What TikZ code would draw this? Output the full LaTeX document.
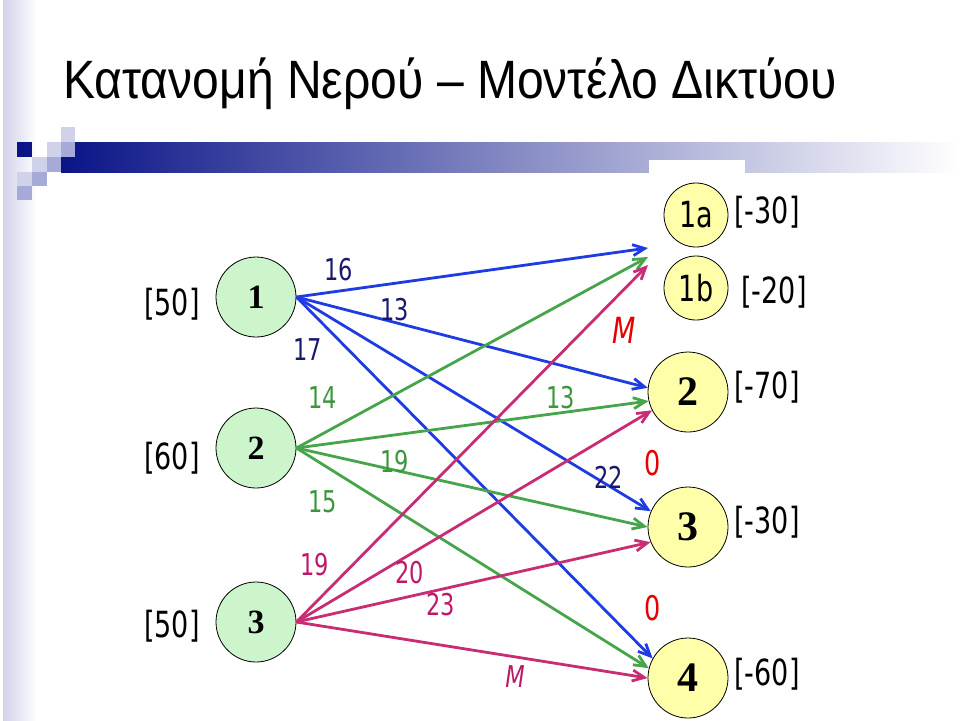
\documentclass[tikz,border=0pt]{standalone}
\usepackage{fontspec}
\setmainfont{DejaVu Sans}[FakeStretch=0.75]
\newfontfamily\titlefont{Liberation Sans}[FakeStretch=0.89]
\newfontfamily\numfont{Liberation Serif}
\usetikzlibrary{arrows.meta}

\definecolor{navybar}{RGB}{10,20,135}
\definecolor{stripe}{RGB}{210,210,235}
\definecolor{lavmid}{RGB}{165,170,215}
\definecolor{lavlight}{RGB}{208,210,234}
\definecolor{srcfill}{RGB}{204,245,204}
\definecolor{snkfill}{RGB}{255,255,170}
\definecolor{eblue}{RGB}{30,60,225}
\definecolor{egreen}{RGB}{70,165,75}
\definecolor{emag}{RGB}{200,45,115}
\definecolor{tnavy}{RGB}{25,25,110}
\definecolor{tgreen}{RGB}{60,150,60}
\definecolor{tmag}{RGB}{190,25,105}
\definecolor{tred}{RGB}{230,0,0}

\tikzset{
  src/.style={circle, draw, fill=srcfill, minimum size=40pt, inner sep=0pt,
    font=\numfont\bfseries\fontsize{17}{17}\selectfont},
  snk/.style={circle, draw, fill=snkfill, minimum size=40pt, inner sep=0pt,
    font=\numfont\bfseries\fontsize{21}{21}\selectfont},
  snksmall/.style={circle, draw, fill=snkfill, minimum size=32pt, inner sep=0pt,
    font=\fontsize{18}{18}\selectfont},
  amount/.style={font=\fontsize{18}{18}\selectfont},
  flow/.style={line width=1.4pt, -{Straight Barb[length=6pt,width=5.5pt]}},
  cost/.style={font=\fontsize{15}{15}\selectfont},
}

\begin{document}
\begin{tikzpicture}[x=0.5pt, y=-0.5pt]
\useasboundingbox (0,0) rectangle (960,720);
% slide decoration
\shade[left color=stripe, right color=white] (3,0) rectangle (37,720);
\shade[left color=navybar, right color=white] (61,142) rectangle (960,172);
\fill[white] (649,160) rectangle (745,175);
\fill[navybar] (17,142) rectangle (32,157);
\fill[lavlight] (32,157) rectangle (47,172);
\fill[lavmid] (47,157) rectangle (61,172);
\fill[lavlight] (47,142) rectangle (61,157);
\fill[lavlight] (61,127) rectangle (75,142);
\fill[lavmid] (61,142) rectangle (75,157);
\fill[lavlight] (17,172) rectangle (32,186);
\fill[lavmid] (32,172) rectangle (47,186);
\fill[lavmid] (17,186) rectangle (32,200);

\node[anchor=base west, inner sep=0pt, font=\titlefont\fontsize{27}{30}\selectfont] (title) at (63,98) {Κατανομή Νερού – Μοντέλο Δικτύου};

% sources
\node[src] (n1) at (256,297) {1};
\node[src] (n2) at (256,448) {2};
\node[src] (n3) at (256,622) {3};
\node[amount] (a1) at (172,304) {[50]};
\node[amount] (a2) at (172,458) {[60]};
\node[amount] (a3) at (172,626) {[50]};

% sinks
\node[snksmall] (m1a) at (696,215) {1a};
\node[snksmall] (m1b) at (696,288) {1b};
\node[snk] (m2) at (688,392) {2};
\node[snk] (m3) at (688,527) {3};
\node[snk] (m4) at (688,678) {4};
\node[amount] (d1a) at (767,212) {[-30]};
\node[amount] (d1b) at (774,292) {[-20]};
\node[amount] (d2) at (767,387) {[-70]};
\node[amount] (d3) at (767,522) {[-30]};
\node[amount] (d4) at (767,674) {[-60]};

\coordinate (h1a) at (648,248);
\coordinate (h1b) at (648,257);
\coordinate (h1c) at (648,265);

% flows
\draw[flow, eblue] (n1.east) -- (h1a);
\draw[flow, eblue] (n1.east) -- (m2.174);
\draw[flow, eblue] (n1.east) -- (m3.157);
\draw[flow, eblue] (n1.east) -- (m4.151);
\draw[flow, egreen] (n2.east) -- (h1b);
\draw[flow, egreen] (n2.east) -- (m2.193);
\draw[flow, egreen] (n2.east) -- (m3.180);
\draw[flow, egreen] (n2.east) -- (m4.166);
\draw[flow, emag] (n3.east) -- (h1c);
\draw[flow, emag] (n3.east) -- (m2.207);
\draw[flow, emag] (n3.east) -- (m3.202);
\draw[flow, emag] (n3.east) -- (m4.180);

% costs
\node[cost, text=tnavy] (c16) at (339,270) {16};
\node[cost, text=tnavy] (c13a) at (395,310) {13};
\node[cost, text=tnavy] (c17) at (308,350) {17};
\node[cost, text=tnavy] (c22) at (609,477) {22};
\node[cost, text=tgreen] (c14) at (323,398) {14};
\node[cost, text=tgreen] (c13b) at (561,398) {13};
\node[cost, text=tgreen] (c19a) at (395,462) {19};
\node[cost, text=tgreen] (c15) at (323,502) {15};
\node[cost, text=tmag] (c19b) at (315,565) {19};
\node[cost, text=tmag] (c20) at (410,573) {20};
\node[cost, text=tmag] (c23) at (441,605) {23};
\node[cost, text=tmag] (cM) at (515,677) {\itshape M};
\node[font=\fontsize{18}{18}\selectfont\itshape, text=tred] (rM) at (624,330) {M};
\node[font=\fontsize{17}{17}\selectfont, text=tred] (r0a) at (653,463) {0};
\node[font=\fontsize{17}{17}\selectfont, text=tred] (r0b) at (653,608) {0};
\end{tikzpicture}
\end{document}
